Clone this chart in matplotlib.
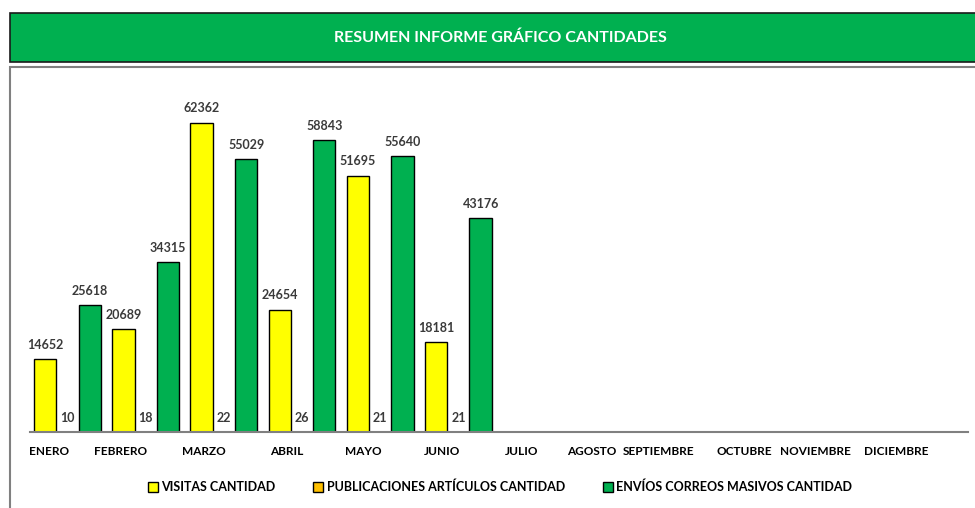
import matplotlib
matplotlib.use("Agg")
import matplotlib.pyplot as plt
from matplotlib.patches import Rectangle, Patch
import numpy as np

months = ["ENERO", "FEBRERO", "MARZO", "ABRIL", "MAYO", "JUNIO", "JULIO",
          "AGOSTO", "SEPTIEMBRE", "OCTUBRE", "NOVIEMBRE", "DICIEMBRE"]
visitas = [14652, 20689, 62362, 24654, 51695, 18181]
publicaciones = [10, 18, 22, 26, 21, 21]
envios = [25618, 34315, 55029, 58843, 55640, 43176]
series_names = ["VISITAS CANTIDAD", "PUBLICACIONES ARTÍCULOS CANTIDAD",
                "ENVÍOS CORREOS MASIVOS CANTIDAD"]
colors = ["#FFFF00", "#FFC000", "#00B050"]
title = "RESUMEN INFORME GRÁFICO CANTIDADES"

plt.rcParams['font.family'] = ['Lato', 'DejaVu Sans']

W, H = 975, 508
fig = plt.figure(figsize=(W / 100, H / 100), dpi=100)

# banner
fig.patches.append(Rectangle((10 / W, 1 - 62 / H), 1.0, 49 / H, transform=fig.transFigure,
                             facecolor="#00B050", edgecolor="#1a1a1a", linewidth=1.2,
                             zorder=-2))
fig.text(500 / W, 1 - 38 / H, title, color="white", fontsize=11.5, fontweight="bold",
         ha="center", va="center")
# chart box
fig.patches.append(Rectangle((10 / W, -0.1), 1.0, (1 - 67 / H) + 0.1, transform=fig.transFigure,
                             facecolor="white", edgecolor="#808080", linewidth=1.5,
                             zorder=-2))

ax = fig.add_axes([30 / W, 1 - 432 / H, 938 / W, (432 - 80) / H])
ax.set_facecolor("none")
x = np.arange(len(months))
bw = 0.285
data = [visitas, publicaciones, envios]
for i, (vals, c, name) in enumerate(zip(data, colors, series_names)):
    xs = x[:len(vals)] + (i - 1) * bw - 0.02
    ax.bar(xs, vals, width=bw, color=c, edgecolor="black", linewidth=1.0, label=name)
    for xx, v in zip(xs, vals):
        ax.annotate(str(v), (xx, v), xytext=(0, 6), textcoords="offset points",
                    ha="center", va="bottom", fontsize=9, fontweight="bold", color="#3a3a3a")

ax.set_xlim(-0.5, len(months) - 0.5)
ax.set_ylim(0, 71000)
for s in ["top", "right", "left"]:
    ax.spines[s].set_visible(False)
ax.spines["bottom"].set_color("#808080")
ax.spines["bottom"].set_linewidth(1.5)
ax.set_yticks([])
ax.set_xticks(x)
ax.set_xticklabels([])
ax.tick_params(axis="x", length=0)
for xx, m in zip(x, months):
    ax.text(xx, -0.04, m, transform=ax.get_xaxis_transform(), ha="right", va="top",
            fontsize=8.5, fontweight="bold", color="black")

handles = [Patch(facecolor=c, edgecolor="black", linewidth=1.0) for c in colors]
fig.legend(handles, series_names, loc="center", bbox_to_anchor=(500 / W, 1 - 487 / H),
           ncol=3, frameon=False, prop={"weight": "bold", "size": 9},
           handlelength=0.8, handleheight=0.8, handletextpad=0.3, columnspacing=3.0)

fig.savefig("out.png", dpi=100)
